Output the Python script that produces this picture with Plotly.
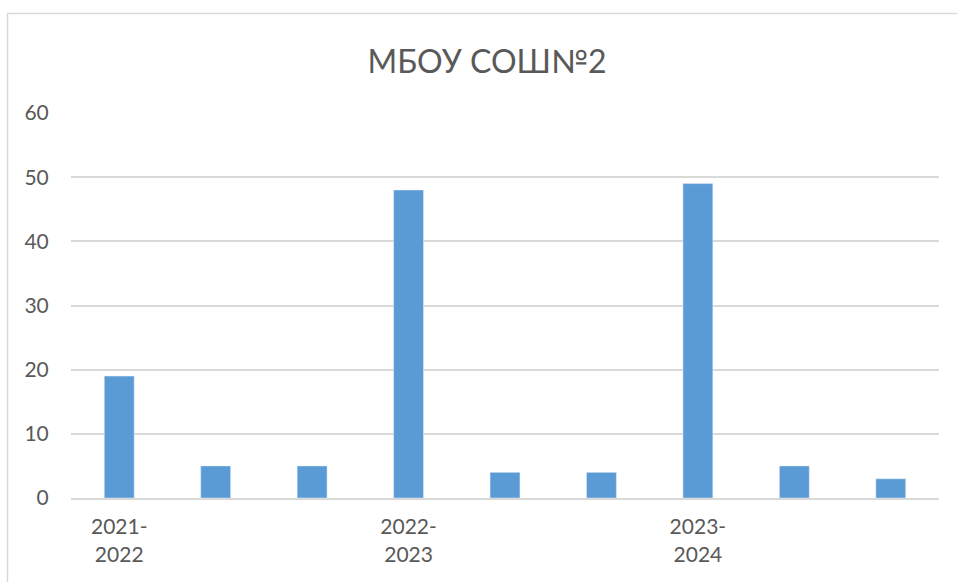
import plotly.graph_objects as go

categories = ["c1", "c2", "c3", "c4", "c5", "c6", "c7", "c8", "c9"]
tick_labels = ["2021-<br>2022", "", "", "2022-<br>2023", "", "", "2023-<br>2024", "", ""]
values = [19, 5, 5, 48, 4, 4, 49, 5, 3]
title_text = "МБОУ СОШ№2"

W, H = 957, 582
L, R, T, B = 71, 18, 113, 84
pw = W - L - R
ph = H - T - B

def px_to_paper_x(px):
    return (px - L) / pw

def px_to_paper_y(py):
    return 1 - (py - T) / ph

fig = go.Figure(go.Bar(x=categories, y=values, marker_color="#5B9BD5", width=0.31))

fig.update_layout(
    width=W, height=H,
    margin=dict(l=L, r=R, t=T, b=B),
    paper_bgcolor="white", plot_bgcolor="white",
    font=dict(family="Lato", color="#595959", size=21),
    title=dict(text=title_text, x=px_to_paper_x(487), xref="paper", xanchor="center",
               y=1 - 62 / H, yref="container", yanchor="middle",
               font=dict(size=32, color="#595959", family="Lato")),
    showlegend=False,
)
fig.update_xaxes(
    tickvals=categories, ticktext=tick_labels, showgrid=False,
    showline=True, linecolor="#D9D9D9", linewidth=2,
    ticks="outside", ticklen=9, tickcolor="rgba(0,0,0,0)",
)
fig.update_yaxes(
    range=[0, 60], dtick=10, showgrid=True, gridcolor="#D9D9D9", gridwidth=1.5,
    zeroline=False, showline=False,
    ticks="outside", ticklen=17, tickcolor="rgba(0,0,0,0)",
)
fig.add_shape(type="rect", xref="paper", yref="paper",
              x0=px_to_paper_x(7.5), x1=px_to_paper_x(1000),
              y0=px_to_paper_y(640), y1=px_to_paper_y(13.5),
              line=dict(color="#D9D9D9", width=1.5), fillcolor="rgba(0,0,0,0)", layer="below")

fig.write_html(
    "out.html",
    config={"displayModeBar": False},
    post_script="document.body.style.margin='0';document.body.style.overflow='hidden';",
)
